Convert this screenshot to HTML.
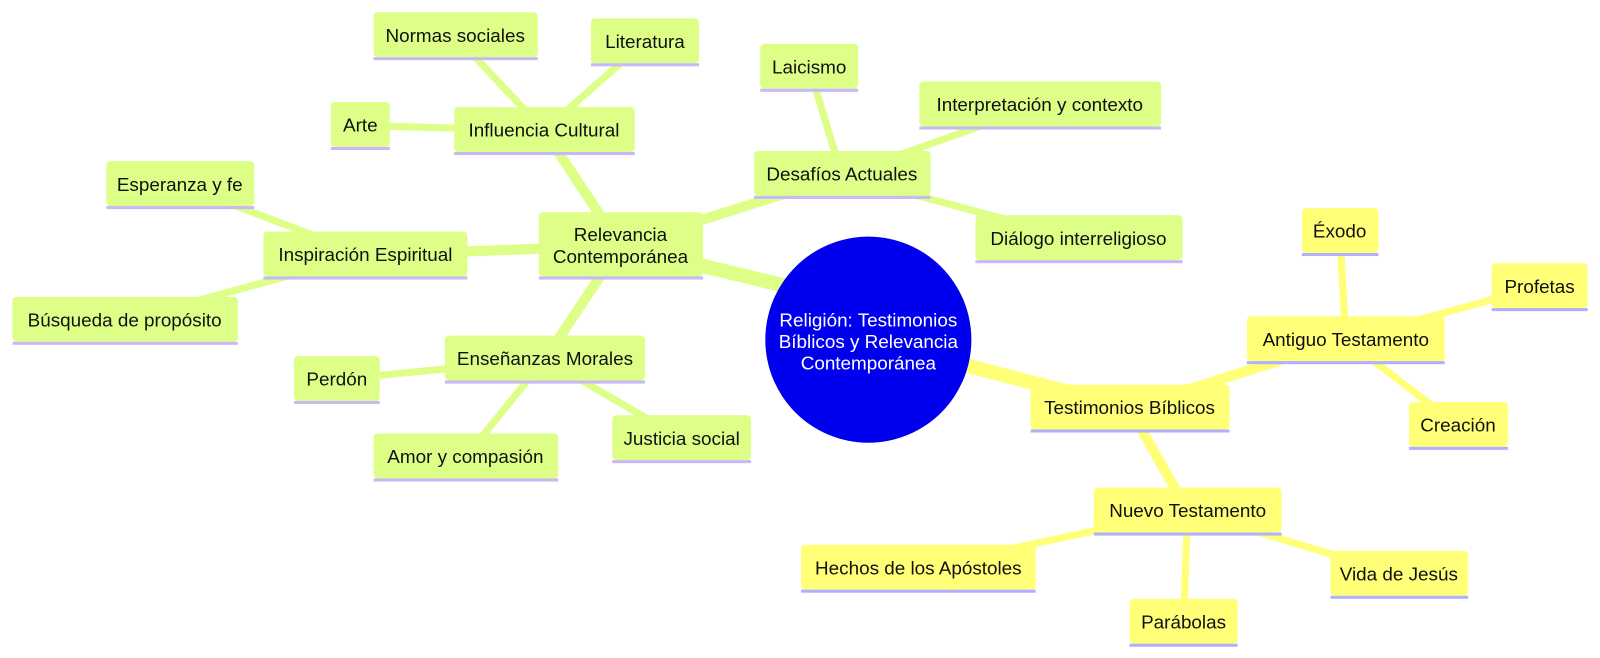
<!DOCTYPE html>
<html><head><meta charset="utf-8"><style>
html,body{margin:0;padding:0;background:#fff;overflow:hidden;}
svg{display:block;}
text{font-family:"Liberation Sans","DejaVu Sans",sans-serif;font-size:18.5px;fill:#111;}
</style></head><body>
<svg width="1600" height="658" viewBox="0 0 1568 645" xmlns="http://www.w3.org/2000/svg">
<g stroke-linecap="butt" fill="none">
<line x1="851" y1="300" x2="608" y2="241" stroke="#ddff88" stroke-width="14"/>
<line x1="608" y1="241" x2="825" y2="172" stroke="#ddff88" stroke-width="10"/>
<line x1="608" y1="241" x2="533" y2="128" stroke="#ddff88" stroke-width="10"/>
<line x1="608" y1="241" x2="358" y2="250" stroke="#ddff88" stroke-width="10"/>
<line x1="608" y1="241" x2="534" y2="352" stroke="#ddff88" stroke-width="10"/>
<line x1="533" y1="128" x2="446" y2="35" stroke="#ddff88" stroke-width="7"/>
<line x1="533" y1="128" x2="632" y2="41" stroke="#ddff88" stroke-width="7"/>
<line x1="533" y1="128" x2="353" y2="123" stroke="#ddff88" stroke-width="7"/>
<line x1="825" y1="172" x2="793" y2="66" stroke="#ddff88" stroke-width="7"/>
<line x1="825" y1="172" x2="1019" y2="103" stroke="#ddff88" stroke-width="7"/>
<line x1="825" y1="172" x2="1057" y2="234" stroke="#ddff88" stroke-width="7"/>
<line x1="358" y1="250" x2="176" y2="181" stroke="#ddff88" stroke-width="7"/>
<line x1="358" y1="250" x2="122" y2="314" stroke="#ddff88" stroke-width="7"/>
<line x1="534" y1="352" x2="330" y2="372" stroke="#ddff88" stroke-width="7"/>
<line x1="534" y1="352" x2="456" y2="448" stroke="#ddff88" stroke-width="7"/>
<line x1="534" y1="352" x2="668" y2="430" stroke="#ddff88" stroke-width="7"/>
<line x1="851" y1="333" x2="1107" y2="400" stroke="#ffff78" stroke-width="14"/>
<line x1="1107" y1="400" x2="1319" y2="333" stroke="#ffff78" stroke-width="10"/>
<line x1="1107" y1="400" x2="1164" y2="501" stroke="#ffff78" stroke-width="10"/>
<line x1="1319" y1="333" x2="1313" y2="227" stroke="#ffff78" stroke-width="7"/>
<line x1="1319" y1="333" x2="1509" y2="281" stroke="#ffff78" stroke-width="7"/>
<line x1="1319" y1="333" x2="1429" y2="417" stroke="#ffff78" stroke-width="7"/>
<line x1="1164" y1="501" x2="900" y2="557" stroke="#ffff78" stroke-width="7"/>
<line x1="1164" y1="501" x2="1160" y2="610" stroke="#ffff78" stroke-width="7"/>
<line x1="1164" y1="501" x2="1371" y2="563" stroke="#ffff78" stroke-width="7"/>
</g>
<circle cx="851" cy="333" r="101" fill="#0000ee"/>
<text x="851" y="320" text-anchor="middle" style="fill:#fff">Religión: Testimonios</text>
<text x="851" y="341" text-anchor="middle" style="fill:#fff">Bíblicos y Relevancia</text>
<text x="851" y="362" text-anchor="middle" style="fill:#fff">Contemporánea</text>
<rect x="528" y="208" width="161" height="63" rx="4" fill="#ddff88"/><rect x="528" y="271" width="161" height="3" fill="#c9b8f5"/>
<text x="608" y="236" text-anchor="middle">Relevancia</text><text x="608" y="258" text-anchor="middle">Contemporánea</text>
<g fill="#ddff88">
<rect x="445" y="105" width="177" height="44" rx="4"/>
<rect x="366" y="12" width="161" height="44" rx="4"/>
<rect x="579" y="18" width="106" height="44" rx="4"/>
<rect x="324" y="100" width="58" height="44" rx="4"/>
<rect x="739" y="148" width="173" height="44" rx="4"/>
<rect x="745" y="43" width="96" height="44" rx="4"/>
<rect x="901" y="80" width="237" height="44" rx="4"/>
<rect x="956" y="211" width="203" height="44" rx="4"/>
<rect x="258" y="227" width="200" height="44" rx="4"/>
<rect x="104" y="158" width="145" height="44" rx="4"/>
<rect x="12" y="291" width="221" height="44" rx="4"/>
<rect x="436" y="329" width="196" height="44" rx="4"/>
<rect x="288" y="349" width="84" height="44" rx="4"/>
<rect x="366" y="425" width="181" height="44" rx="4"/>
<rect x="600" y="407" width="136" height="44" rx="4"/>
</g>
<g fill="#c9b8f5">
<rect x="445" y="149" width="177" height="3"/>
<rect x="366" y="56" width="161" height="3"/>
<rect x="579" y="62" width="106" height="3"/>
<rect x="324" y="144" width="58" height="3"/>
<rect x="739" y="192" width="173" height="3"/>
<rect x="745" y="87" width="96" height="3"/>
<rect x="901" y="124" width="237" height="3"/>
<rect x="956" y="255" width="203" height="3"/>
<rect x="258" y="271" width="200" height="3"/>
<rect x="104" y="202" width="145" height="3"/>
<rect x="12" y="335" width="221" height="3"/>
<rect x="436" y="373" width="196" height="3"/>
<rect x="288" y="393" width="84" height="3"/>
<rect x="366" y="469" width="181" height="3"/>
<rect x="600" y="451" width="136" height="3"/>
</g>
<g fill="#ffff78">
<rect x="1010" y="377" width="195" height="44" rx="4"/>
<rect x="1222" y="310" width="194" height="44" rx="4"/>
<rect x="1276" y="204" width="75" height="44" rx="4"/>
<rect x="1462" y="258" width="94" height="44" rx="4"/>
<rect x="1381" y="394" width="97" height="44" rx="4"/>
<rect x="1072" y="478" width="184" height="44" rx="4"/>
<rect x="785" y="534" width="230" height="44" rx="4"/>
<rect x="1107" y="587" width="106" height="44" rx="4"/>
<rect x="1304" y="540" width="135" height="44" rx="4"/>
</g>
<g fill="#b0b0ff">
<rect x="1010" y="421" width="195" height="3"/>
<rect x="1222" y="354" width="194" height="3"/>
<rect x="1276" y="248" width="75" height="3"/>
<rect x="1462" y="302" width="94" height="3"/>
<rect x="1381" y="438" width="97" height="3"/>
<rect x="1072" y="522" width="184" height="3"/>
<rect x="785" y="578" width="230" height="3"/>
<rect x="1107" y="631" width="106" height="3"/>
<rect x="1304" y="584" width="135" height="3"/>
</g>
<g text-anchor="middle">
<text x="533" y="134">Influencia Cultural</text>
<text x="446" y="41">Normas sociales</text>
<text x="632" y="47">Literatura</text>
<text x="353" y="129">Arte</text>
<text x="825" y="177">Desafíos Actuales</text>
<text x="793" y="72">Laicismo</text>
<text x="1019" y="109">Interpretación y contexto</text>
<text x="1057" y="240">Diálogo interreligioso</text>
<text x="358" y="256">Inspiración Espiritual</text>
<text x="176" y="187">Esperanza y fe</text>
<text x="122" y="320">Búsqueda de propósito</text>
<text x="534" y="358">Enseñanzas Morales</text>
<text x="330" y="378">Perdón</text>
<text x="456" y="454">Amor y compasión</text>
<text x="668" y="436">Justicia social</text>
<text x="1107" y="406">Testimonios Bíblicos</text>
<text x="1319" y="339">Antiguo Testamento</text>
<text x="1313" y="233">Éxodo</text>
<text x="1509" y="287">Profetas</text>
<text x="1429" y="423">Creación</text>
<text x="1164" y="507">Nuevo Testamento</text>
<text x="900" y="563">Hechos de los Apóstoles</text>
<text x="1160" y="616">Parábolas</text>
<text x="1371" y="569">Vida de Jesús</text>
</g>
</svg>
</body></html>
